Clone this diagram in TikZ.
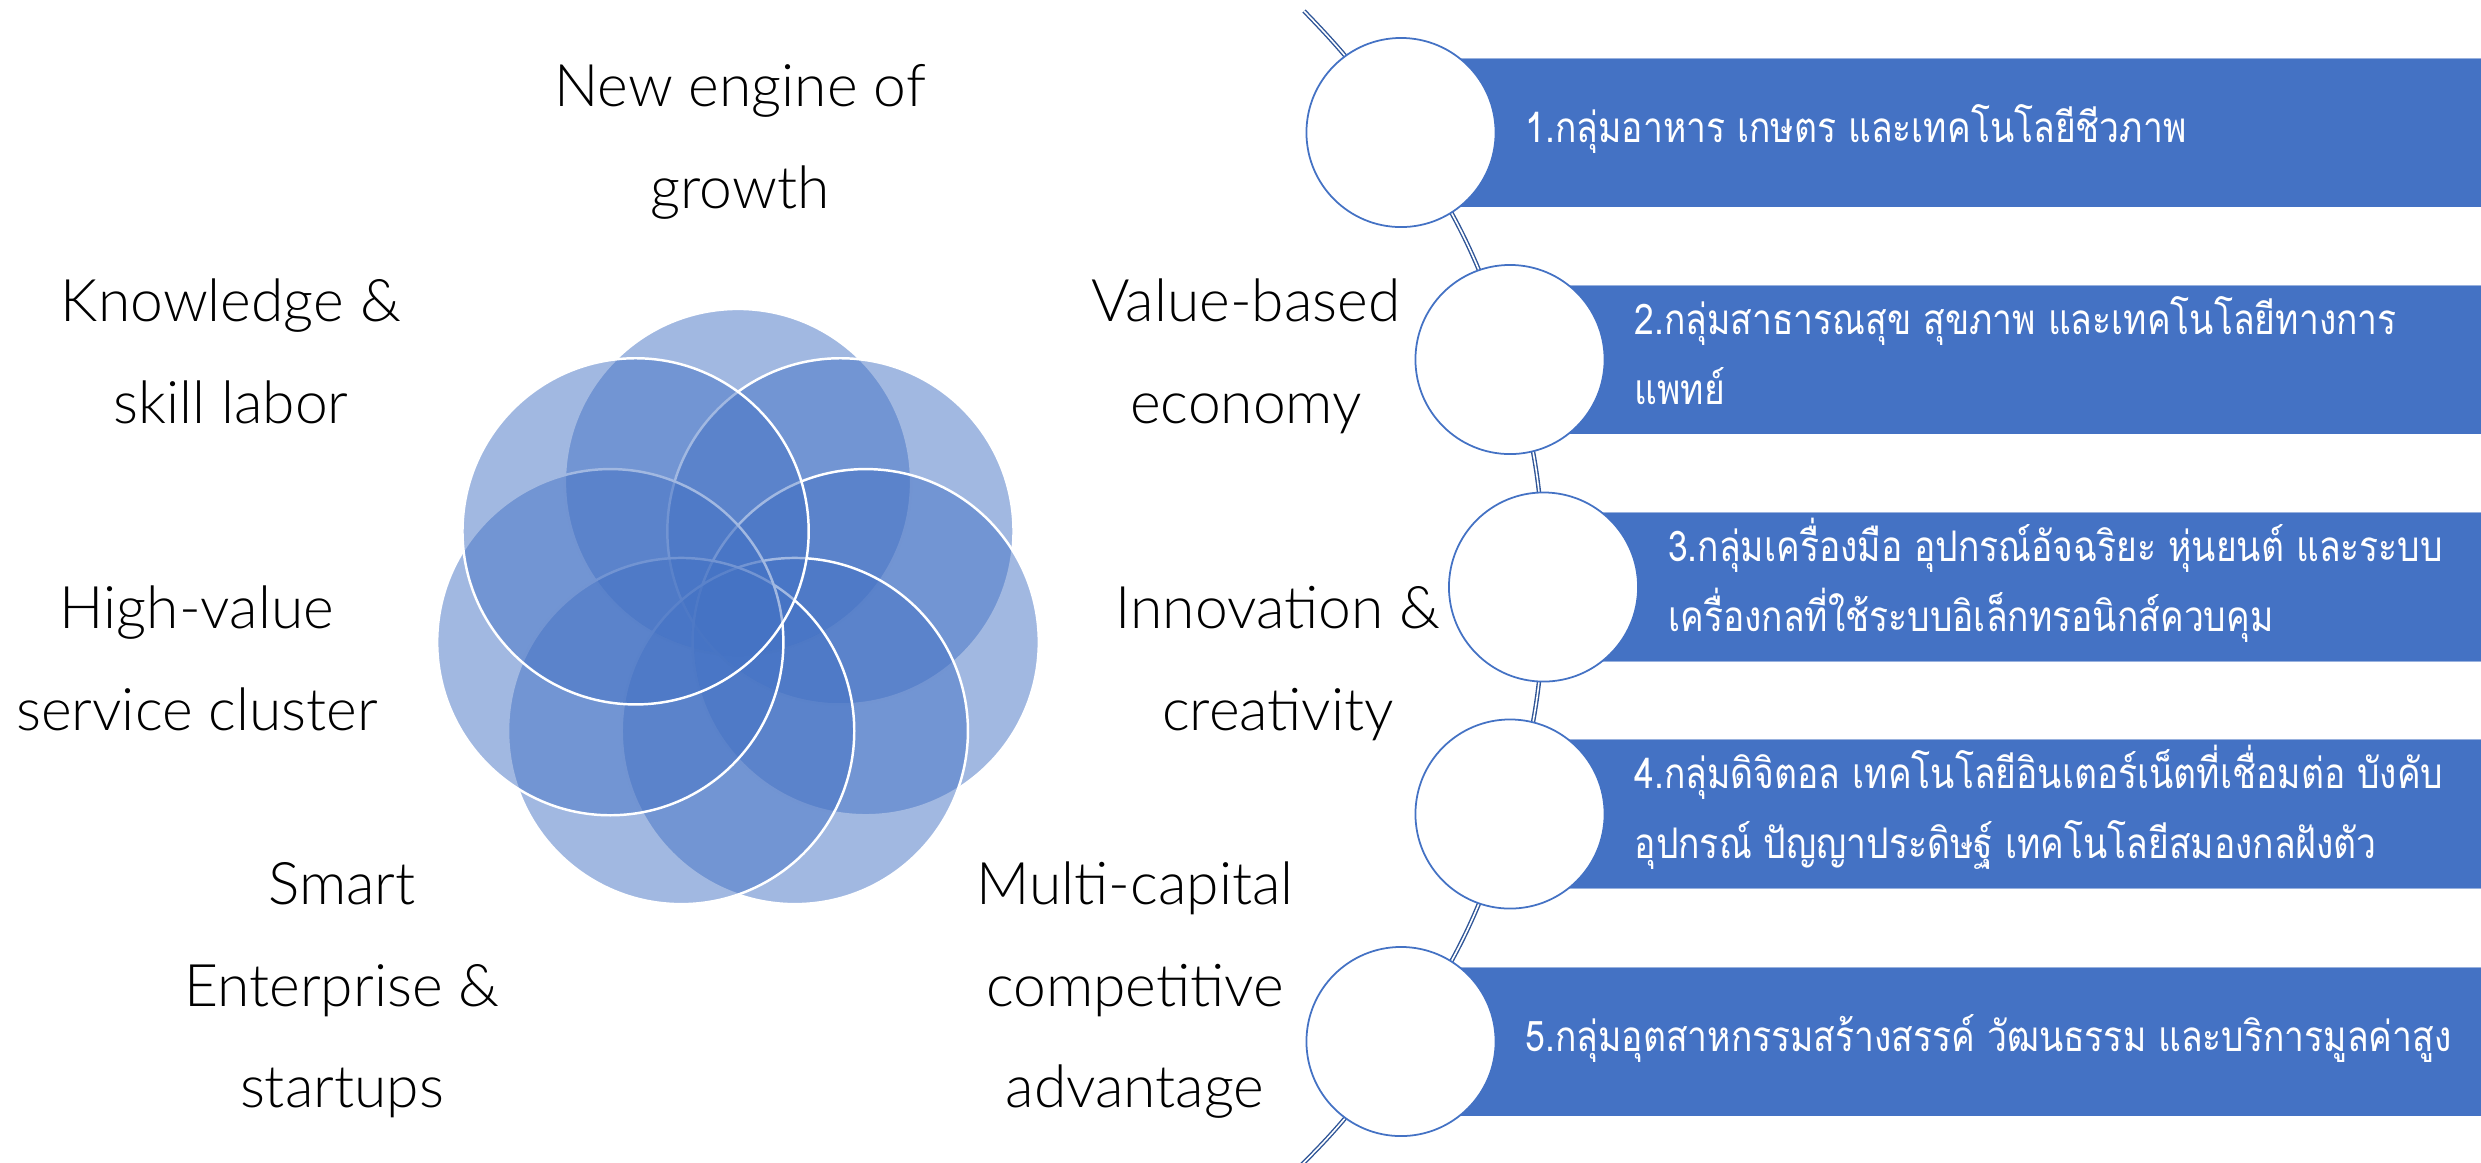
\documentclass[tikz,border=0pt]{standalone}
\usepackage{fontspec}
\usetikzlibrary{backgrounds}
\newfontfamily\thaifont[Script=Thai,FakeStretch=0.84]{Loma}
\newfontfamily\enfont{Lato Light}
\definecolor{accent}{HTML}{4472C4}
\definecolor{linedark}{HTML}{2F5597}
\newcommand\lstrut{\rule[-0.36\baselineskip]{0pt}{\baselineskip}}
\begin{document}
\begin{tikzpicture}[x=0.01cm,y=0.01cm,
  petal/.style={fill=accent, fill opacity=0.5, draw=white, draw opacity=1, line width=0.7pt},
  lbl/.style={font=\enfont\fontsize{16.7}{28.88}\selectfont, align=center, inner sep=0pt, text=black},
  barbox/.style={anchor=west, fill=accent, draw=white, draw opacity=0.45, line width=0.3pt, minimum height=1.49cm, inner sep=0pt},
  dot/.style={circle, draw=accent, fill=white, line width=0.5pt, minimum size=1.89cm, inner sep=0pt},
  bartext/.style={font=\thaifont\fontsize{12}{19.92}\selectfont, text=white, align=left, anchor=west, inner sep=0pt},
  spine/.style={draw=linedark, line width=0.4pt, double=white, double distance=0.45pt}
]
\useasboundingbox (0,0) rectangle (2481,-1162);
% flower of seven translucent circles
\foreach \k in {0,...,6}{
  \pgfmathsetmacro\ang{90-\k*360/7}
  \path[petal] ({738+131*cos(\ang)},{-613+131*sin(\ang)}) circle[radius=1.73cm];
}
% bars
\node[barbox, minimum width=10.9cm] (b1) at (1401,-132.5) {};
\node[barbox, minimum width=9.8cm] (b2) at (1510,-359.5) {};
\node[barbox, minimum width=9.5cm] (b3) at (1543.5,-587) {};
\node[barbox, minimum width=9.8cm] (b4) at (1510,-814) {};
\node[barbox, minimum width=10.9cm] (b5) at (1401,-1041.5) {};
% circles of the list
\node[dot] (c1) at (1401,-132.5) {};
\node[dot] (c2) at (1510,-359.5) {};
\node[dot] (c3) at (1543.5,-587) {};
\node[dot] (c4) at (1510,-814) {};
\node[dot] (c5) at (1401,-1041.5) {};
% labels round the flower
\node[lbl] (n0) at (740,-143.4) {\lstrut New engine of\\\lstrut growth};
\node[lbl] (n1) at (1246,-358.4) {\lstrut Value-based\\\lstrut economy};
\node[lbl] (n2) at (1278,-665) {\lstrut Innovation \&\\\lstrut creativity};
\node[lbl] (n3) at (1135,-992) {\lstrut Multi-capital\\\lstrut competitive\\\lstrut advantage};
\node[lbl] (n4) at (342,-992) {\lstrut Smart\\\lstrut Enterprise \&\\\lstrut startups};
\node[lbl] (n5) at (197,-665) {\lstrut High-value\\\lstrut service cluster};
\node[lbl] (n6) at (231,-358.4) {\lstrut Knowledge \&\\\lstrut skill labor};
% texts of the bars
\node[bartext] (t1) at (1525,-132.5) {\lstrut 1.กลุ่มอาหาร เกษตร และเทคโนโลยีชีวภาพ};
\node[bartext] (t2) at (1634,-359.5) {\lstrut 2.กลุ่มสาธารณสุข สุขภาพ และเทคโนโลยีทางการ\\\lstrut แพทย์};
\node[bartext] (t3) at (1667.5,-587) {\lstrut 3.กลุ่มเครื่องมือ อุปกรณ์อัจฉริยะ หุ่นยนต์ และระบบ\\\lstrut เครื่องกลที่ใช้ระบบอิเล็กทรอนิกส์ควบคุม};
\node[bartext] (t4) at (1634,-814) {\lstrut 4.กลุ่มดิจิตอล เทคโนโลยีอินเตอร์เน็ตที่เชื่อมต่อ บังคับ\\\lstrut อุปกรณ์ ปัญญาประดิษฐ์ เทคโนโลยีสมองกลฝังตัว};
\node[bartext] (t5) at (1525,-1041.5) {\lstrut 5.กลุ่มอุตสาหกรรมสร้างสรรค์ วัฒนธรรม และบริการมูลค่าสูง};
% curved spine behind the circles
\coordinate (sTop) at (1304,-11);
\coordinate (sBot) at (1286,-1180);
\begin{pgfonlayer}{background}
\draw[spine] (sTop) to[bend left=5.6] (c1.center) to[bend left=9] (c2.center)
  to[bend left=8.3] (c3.center) to[bend left=8.3] (c4.center)
  to[bend left=9] (c5.center) to[bend left=6.5] (sBot);
\end{pgfonlayer}
\end{tikzpicture}
\end{document}
